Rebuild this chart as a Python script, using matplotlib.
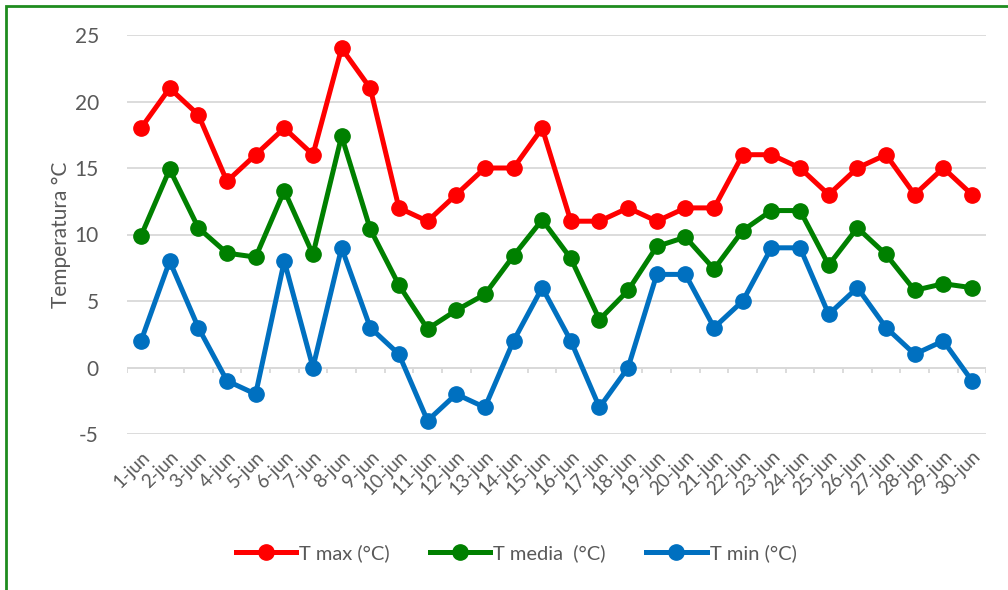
import matplotlib.pyplot as plt
from matplotlib.patches import Rectangle

days = [f"{d}-jun" for d in range(1, 31)]
t_max = [18, 21, 19, 14, 16, 18, 16, 24, 21, 12, 11, 13, 15, 15, 18,
         11, 11, 12, 11, 12, 12, 16, 16, 15, 13, 15, 16, 13, 15, 13]
t_media = [9.9, 14.9, 10.5, 8.6, 8.3, 13.3, 8.5, 17.4, 10.4, 6.2, 2.9, 4.3, 5.5, 8.4, 11.1,
           8.2, 3.6, 5.8, 9.1, 9.8, 7.4, 10.3, 11.8, 11.8, 7.7, 10.5, 8.5, 5.8, 6.3, 6.0]
t_min = [2, 8, 3, -1, -2, 8, 0, 9, 3, 1, -4, -2, -3, 2, 6,
         2, -3, 0, 7, 7, 3, 5, 9, 9, 4, 6, 3, 1, 2, -1]

plt.rcParams['font.family'] = ['Lato', 'DejaVu Sans']
plt.rcParams['axes.unicode_minus'] = False
txt = '#595959'

fig = plt.figure(figsize=(10.08, 5.90), dpi=100)
ax = fig.add_axes([126.7 / 1008, 156 / 590, (986.3 - 126.7) / 1008, (555 - 156) / 590])

x = list(range(len(days)))
ax.plot(x, t_max, color='#FF0000', lw=3.6, marker='o', ms=11, label='T max (°C)', zorder=3)
ax.plot(x, t_media, color='#008000', lw=3.6, marker='o', ms=11, label='T media  (°C)', zorder=3)
ax.plot(x, t_min, color='#0070C0', lw=3.6, marker='o', ms=11, label='T min (°C)', zorder=3)

ax.set_xlim(-0.5, len(days) - 0.5)
ax.set_ylim(-5, 25)
ax.set_yticks(range(-5, 26, 5))
ax.grid(axis='y', color='#D9D9D9', lw=1.3)
ax.set_axisbelow(True)

# category axis crosses at zero, with boundary tick marks
ax.axhline(0, color='#D9D9D9', lw=1.3, zorder=1)
ax.vlines([i - 0.5 for i in range(len(days) + 1)], -0.45, 0, color='#D9D9D9', lw=1.3, zorder=1)

ax.set_xticks(x)
ax.set_xticklabels(days, rotation=45, ha='right', rotation_mode='anchor', fontsize=13.5, color=txt)
ax.tick_params(axis='x', length=0, pad=10)
ax.tick_params(axis='y', length=0, pad=20, labelsize=15, labelcolor=txt)
for s in ax.spines.values():
    s.set_visible(False)

ax.set_ylabel('Temperatura °C', fontsize=15, color=txt, labelpad=3)

fig.legend(loc='center', bbox_to_anchor=(516 / 1008, 1 - 553 / 590), ncol=3, frameon=False,
           fontsize=14.5, handlelength=3.0, columnspacing=2.0, handletextpad=0.15, labelcolor=txt)

fig.patches.append(Rectangle((6 / 1008, -0.05), 1.1, 1 - 6 / 590 + 0.05, transform=fig.transFigure,
                             fill=False, edgecolor='#1E8C1E', lw=2))

fig.savefig('out.png', dpi=100)
